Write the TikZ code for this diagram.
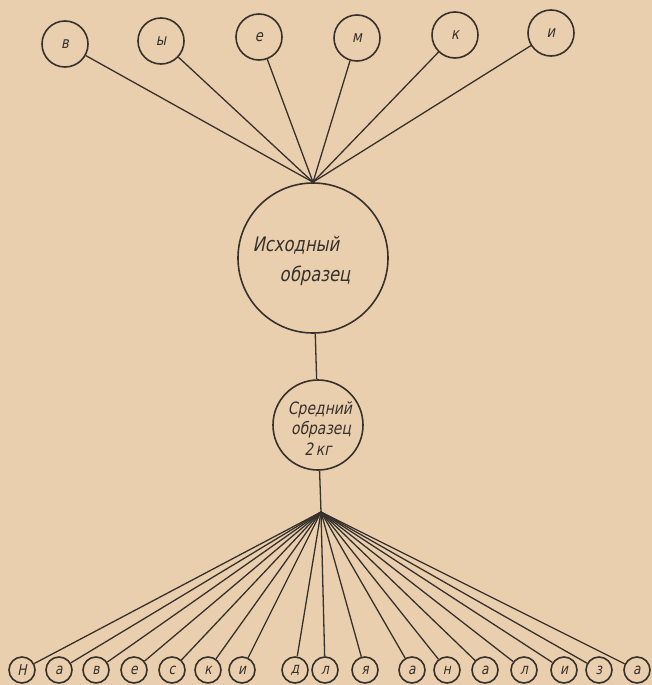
\documentclass[tikz,border=0pt]{standalone}
\usepackage{fontspec}
\newfontfamily\gost[FakeStretch=0.82,FakeSlant=0.2]{DejaVu Sans}
\definecolor{paper}{RGB}{233,207,174}
\definecolor{ink}{RGB}{55,49,44}
\begin{document}
\begin{tikzpicture}[x=1pt,y=-1pt,
  every node/.style={text=ink},
  ring/.style={circle,draw=ink,line width=1.6pt,inner sep=0pt},
  topc/.style={ring,minimum size=46pt},
  botc/.style={ring,minimum size=26pt},
  letter/.style={font=\gost\fontsize{16}{16}\selectfont},
  bletter/.style={font=\gost\fontsize{15}{15}\selectfont},
  bigtxt/.style={font=\gost\fontsize{20}{20}\selectfont},
  midtxt/.style={font=\gost\fontsize{17}{17}\selectfont},
  link/.style={draw=ink,line width=1.3pt}]
\fill[paper] (0,0) rectangle (652,685);
\useasboundingbox (0,0) rectangle (652,685);
% main circles
\node[ring,minimum size=150pt] (big) at (313,258) {};
\node[bigtxt] (t1) at (296,245) {Исходный};
\node[bigtxt] (t2) at (315,276) {образец};
\node[ring,minimum size=90pt] (mid) at (318,425) {};
\node[midtxt] (m1) at (320,410) {Средний};
\node[midtxt] (m2) at (321,430) {образец};
\node[midtxt] (m3) at (318,449) {2\,кг};
\coordinate (conv) at (big.north);
\coordinate (fan) at (321,512);
% top circles
\foreach \n/\x/\y/\t in {a1/65/44/в, a2/161/41/ы, a3/259/37/е, a4/357/38/м, a5/455/35/к, a6/551/33/и}{
  \node[topc] (\n) at (\x,\y) {};
  \node[letter] (\n l) at (\x,\y) {\t};
  \draw[link] (\n) -- (conv);
}
\draw[link] (big) -- (mid);
\draw[link] (mid) -- (fan);
% bottom circles
\foreach \n/\x/\t in {b1/22/Н, b2/59/а, b3/96/в, b4/134/е, b5/172/с, b6/208/к, b7/242/и, b8/295/д, b9/325/л, b10/365/я, b11/412/а, b12/447/н, b13/485/а, b14/524/л, b15/564/и, b16/599/з, b17/637/а}{
  \node[botc] (\n) at (\x,670) {};
  \node[bletter] (\n l) at (\x,670) {\t};
  \draw[link] (fan) -- (\n);
}
\end{tikzpicture}
\end{document}
